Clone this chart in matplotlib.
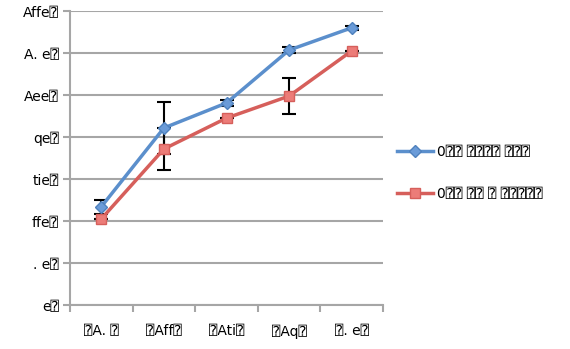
import matplotlib
matplotlib.use("Agg")
import matplotlib.pyplot as plt
import numpy as np

plt.rcParams['font.family'] = ['DejaVu Sans', 'DejaVu Sans Mono']

Q = "\u2370"  # missing glyph box as in the original

categories = [Q + "A. " + Q, Q + "Aff" + Q, Q + "Ati" + Q, Q + "Aq" + Q, Q + ". e" + Q]
ytick_labels = ["e" + Q, ". e" + Q, "ffe" + Q, "tie" + Q, "qe" + Q, "Aee" + Q, "A. e" + Q, "Affe" + Q]
yticks = [0, 20, 40, 60, 80, 100, 120, 140]

series1_name = "0" + Q * 2 + " " + Q * 4 + " " + Q * 3
series1 = [46.8, 84.3, 96.2, 121.4, 132.0]
series1_err = [3.3, 12.4, 1.4, 1.4, 1.0]

series2_name = "0" + Q * 2 + " " + Q * 2 + " " + Q + " " + Q * 5
series2 = [41.0, 74.3, 89.0, 99.5, 121.0]
series2_err = [0.0, 10.0, 0.0, 8.6, 0.0]

fig = plt.figure(figsize=(5.7, 3.49), dpi=100)
ax = fig.add_axes([70 / 570, 1 - 305 / 349, 313 / 570, 294 / 349])

x = np.arange(len(categories))

ax.errorbar(x, series1, yerr=series1_err, fmt='none', ecolor='black', elinewidth=1.5, capsize=5, capthick=1.5, zorder=2)
ax.errorbar(x, series2, yerr=series2_err, fmt='none', ecolor='black', elinewidth=1.5, capsize=5, capthick=1.5, zorder=2)

ax.plot(x, series1, color='#5B8FCC', lw=2.5, marker='D', markersize=6,
        markerfacecolor='#6A9BD8', markeredgecolor='#4F81BD', label=series1_name, zorder=3)
ax.plot(x, series2, color='#D65F5B', lw=2.5, marker='s', markersize=7.5,
        markerfacecolor='#EC7C78', markeredgecolor='#D65F5B', label=series2_name, zorder=3)

ax.set_xlim(-0.5, len(categories) - 0.5)
ax.set_ylim(0, 140)
ax.set_yticks(yticks)
ax.set_yticklabels(ytick_labels, fontsize=10)
ax.set_xticks(x)
ax.set_xticklabels(categories, fontsize=10)
ax.set_xticks(np.arange(-0.5, len(categories)), minor=True)
ax.tick_params(axis='x', which='major', length=0, pad=14)
ax.tick_params(axis='x', which='minor', length=5, color='#A6A6A6', width=1.5)
ax.tick_params(axis='y', length=5, color='#A6A6A6', width=1.5, pad=3)

ax.grid(axis='y', color='#A6A6A6', lw=1.5, zorder=0)
ax.set_axisbelow(True)
for s in ['top', 'right']:
    ax.spines[s].set_visible(False)
for s in ['left', 'bottom']:
    ax.spines[s].set_color('#A6A6A6')
    ax.spines[s].set_linewidth(1.5)

fig.legend(loc='center left', bbox_to_anchor=(384 / 570, 1 - 173 / 349), frameon=False,
           fontsize=10, labelspacing=2.0, handlelength=2.6, handletextpad=0.3)

fig.savefig('out.png', dpi=100)
